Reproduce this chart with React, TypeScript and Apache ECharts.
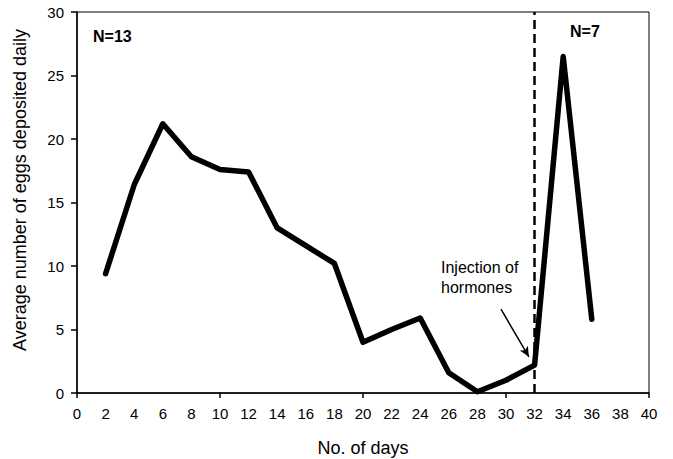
import React, { useEffect, useRef } from "react";
import * as echarts from "echarts";

const days = [2, 4, 6, 8, 10, 12, 14, 16, 18, 20, 22, 24, 26, 28, 30, 32, 34, 36];
const eggs = [9.4, 16.4, 21.2, 18.6, 17.6, 17.4, 13.0, 11.6, 10.2, 4.0, 5.0, 5.9, 1.6, 0.1, 1.0, 2.2, 26.5, 5.8];
const injectionDay = 32;
const arrowFrom = [29.65, 6.6];
const arrowTo = [31.6, 2.85];

export default function App() {
  const ref = useRef<HTMLDivElement>(null);
  useEffect(() => {
    if (!ref.current) return;
    const chart = echarts.init(ref.current, null, { renderer: "svg" });
    const font = "'Liberation Sans', Arial, sans-serif";
    chart.setOption({
      animation: false,
      backgroundColor: "#fff",
      textStyle: { fontFamily: font },
      grid: {
        left: 77,
        right: 24,
        top: 12,
        bottom: 66,
        show: true,
        borderColor: "#000",
        borderWidth: 1,
        containLabel: false,
        outerBoundsMode: "none",
      },
      xAxis: [
        {
          type: "value",
          min: 0,
          max: 40,
          interval: 2,
          name: "No. of days",
          nameLocation: "middle",
          nameGap: 46,
          nameTextStyle: { fontSize: 18, color: "#000", fontFamily: font },
          axisLine: { show: true, onZero: false, lineStyle: { color: "#000", width: 1.5 } },
          axisTick: { show: false },
          axisLabel: { fontSize: 15, color: "#000", margin: 13, fontFamily: font },
          splitLine: { show: false },
        },
        {
          type: "value",
          min: 0,
          max: 40,
          interval: 10,
          position: "bottom",
          axisLine: { show: false },
          axisTick: { show: true, length: 5, inside: false, lineStyle: { color: "#000", width: 1.5 } },
          axisLabel: { show: false },
          splitLine: { show: false },
        },
      ],
      yAxis: {
        type: "value",
        min: 0,
        max: 30,
        interval: 5,
        axisLine: { show: true, lineStyle: { color: "#000", width: 1.5 } },
        axisTick: { show: true, length: 6, lineStyle: { color: "#000", width: 1.5 } },
        axisLabel: { fontSize: 15, color: "#000", margin: 13, fontFamily: font },
        splitLine: { show: false },
      },
      series: [
        {
          type: "line",
          data: days.map((d, i) => [d, eggs[i]]),
          showSymbol: false,
          symbol: "none",
          lineStyle: { color: "#000", width: 5.5, join: "round", cap: "round" },
          markLine: {
            silent: true,
            symbol: ["none", "none"],
            label: { show: false },
            data: [
              {
                xAxis: injectionDay,
                lineStyle: { color: "#000", width: 2.5, type: [9, 5] },
              },
              [
                { coord: arrowFrom, symbol: "none" },
                { coord: arrowTo, symbol: "arrow", symbolSize: [7, 10] },
              ],
            ],
            lineStyle: { color: "#000", width: 1.5, type: "solid" },
          },
        },
      ],
      graphic: [
        {
          type: "text",
          x: 20,
          y: 190,
          rotation: Math.PI / 2,
          style: {
            text: "Average number of eggs deposited daily",
            font: `18px ${font}`,
            fill: "#000",
            align: "center",
            verticalAlign: "middle",
          },
        },
        {
          type: "text",
          left: 93,
          top: 28,
          style: { text: "N=13", font: `bold 16px ${font}`, fill: "#000" },
        },
        {
          type: "text",
          left: 570,
          top: 23,
          style: { text: "N=7", font: `bold 16px ${font}`, fill: "#000" },
        },
        {
          type: "text",
          left: 441,
          top: 257,
          style: {
            text: "Injection of\nhormones",
            font: `16px ${font}`,
            fill: "#000",
            lineHeight: 20,
          },
        },
      ],
    });
    return () => chart.dispose();
  }, []);
  return <div ref={ref} style={{ width: 673, height: 459, position: "absolute", left: 0, top: 0 }} />;
}
